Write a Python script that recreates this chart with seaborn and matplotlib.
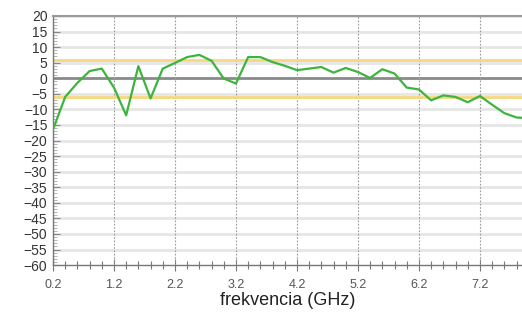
import matplotlib
matplotlib.use("Agg")
import matplotlib.pyplot as plt
import numpy as np
import pandas as pd
import seaborn as sns
from matplotlib.ticker import MultipleLocator, FixedLocator

freq = [0.2, 0.4, 0.6, 0.8, 1.0, 1.2, 1.4, 1.6, 1.8, 2.0,
        2.2, 2.4, 2.6, 2.8, 3.0, 3.2, 3.4, 3.6, 3.8, 4.0,
        4.2, 4.4, 4.6, 4.8, 5.0, 5.2, 5.4, 5.6, 5.8, 6.0,
        6.2, 6.4, 6.6, 6.8, 7.0, 7.2, 7.4, 7.6, 7.8, 8.0]
gain = [-16.5, -6.0, -1.5, 2.3, 3.1, -3.0, -11.9, 3.9, -6.5, 3.1,
        4.9, 6.8, 7.5, 5.6, -0.1, -1.7, 6.8, 6.8, 5.2, 4.0,
        2.6, 3.1, 3.6, 1.8, 3.3, 2.0, 0.1, 2.9, 1.5, -3.0,
        -3.6, -7.1, -5.5, -6.0, -7.7, -5.7, -8.5, -11.2, -12.6, -12.8]
limits = [6, -6]
x_major = [0.2, 1.2, 2.2, 3.2, 4.2, 5.2, 6.2, 7.2]

df = pd.DataFrame({"freq": freq, "gain": gain})

sns.set_theme(style="white")
plt.rcParams["font.family"] = ["Liberation Sans", "DejaVu Sans"]

fig = plt.figure(figsize=(5.22, 3.13), dpi=100)
ax = fig.add_axes([0.1015, 0.153, 0.8985, 0.796])

# background grid
for yv in np.arange(-55, 25, 5):
    if yv != 0:
        ax.axhline(yv, color="#e6e6e6", lw=2, zorder=0)
ax.axhline(0, color="#8a8a8a", lw=2, zorder=1)
for xv in x_major[1:]:
    ax.axvline(xv, color="#999999", lw=0.8, ls=(0, (1.5, 1.5)), zorder=1)
for lv in limits:
    ax.axhline(lv, color="#f5d77e", lw=2, zorder=2)

sns.lineplot(data=df, x="freq", y="gain", color="#3db53d", lw=1.6, ax=ax, zorder=3)

ax.set_xlim(0.2, 7.89)
ax.set_ylim(-60, 20)
ax.xaxis.set_major_locator(FixedLocator(x_major))
ax.xaxis.set_minor_locator(MultipleLocator(0.2))
ax.yaxis.set_major_locator(MultipleLocator(5))
ax.yaxis.set_minor_locator(MultipleLocator(1))

for s in ["right"]:
    ax.spines[s].set_visible(False)
ax.spines["top"].set_color("#9a9a9a")
ax.spines["top"].set_linewidth(1.5)
ax.spines["left"].set_color("#777777")
ax.spines["bottom"].set_color("#777777")
ax.spines["left"].set_linewidth(1)
ax.spines["bottom"].set_linewidth(1)

ax.tick_params(axis="y", which="major", direction="in", length=5, width=0.8,
               color="#888888", labelsize=10, labelcolor="#333333", pad=4,
               left=True)
ax.tick_params(axis="y", which="minor", direction="in", length=3, width=0.6,
               color="#aaaaaa", left=True)
ax.tick_params(axis="x", which="major", direction="inout", length=8, width=0.8,
               color="#777777", labelsize=9, labelcolor="#555555", pad=6,
               bottom=True)
ax.tick_params(axis="x", which="minor", direction="inout", length=6, width=0.8,
               color="#777777", bottom=True)
ax.set_xticklabels([str(v) for v in x_major])

ax.set_xlabel("frekvencia (GHz)", fontsize=13, color="#222222", labelpad=1)
ax.set_ylabel("")

fig.savefig("out.png", dpi=100)
